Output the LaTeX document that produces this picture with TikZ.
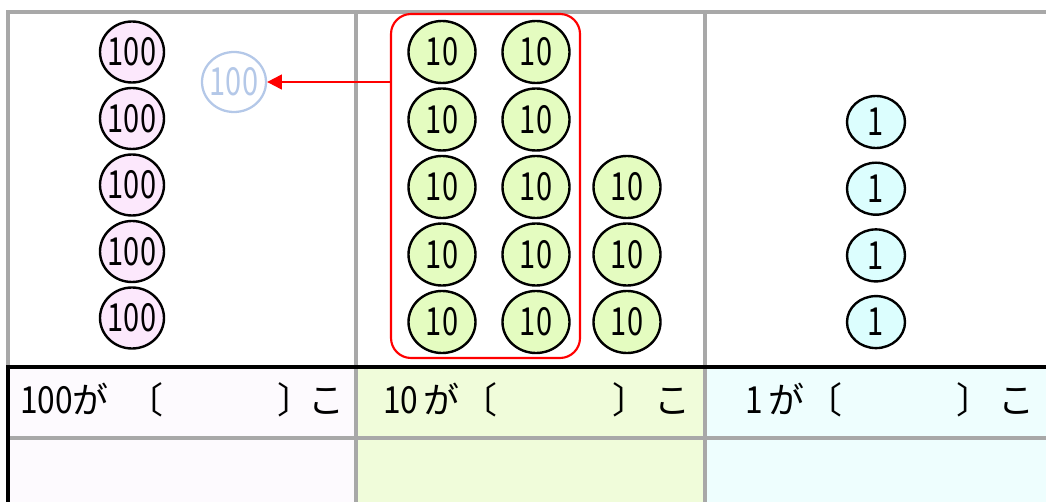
\documentclass[tikz,border=0pt]{standalone}
\usepackage{fontspec}
\setmainfont{Noto Sans CJK JP}
\newfontfamily\numfont[FakeStretch=0.75]{Noto Sans CJK JP}
\newfontfamily\cellnumfont[FakeStretch=0.85]{Noto Sans CJK JP}
\definecolor{FrameGray}{RGB}{168,168,168}
\definecolor{GhostBlue}{RGB}{180,200,232}
\definecolor{HundredFill}{RGB}{252,232,252}
\definecolor{TenFill}{RGB}{228,252,192}
\definecolor{OneFill}{RGB}{220,254,254}
\definecolor{HundredCell}{RGB}{253,250,254}
\definecolor{TenCell}{RGB}{240,252,218}
\definecolor{OneCell}{RGB}{238,254,254}
\usetikzlibrary{arrows.meta, shapes.geometric, positioning}

\begin{document}
\begin{tikzpicture}[x=0.75pt, y=-0.75pt,
    coin/.style={ellipse, draw=black, line width=1.8pt, inner sep=0pt,
      font=\numfont\fontsize{29}{32}\selectfont},
    hundred/.style={coin, fill=HundredFill, minimum width=48pt, minimum height=45.75pt},
    ten/.style={coin, fill=TenFill, minimum width=50.25pt, minimum height=46.5pt},
    one/.style={coin, fill=OneFill, minimum width=43.5pt, minimum height=39pt},
    celltext/.style={anchor=base west, inner sep=0pt, font=\fontsize{27}{30}\selectfont}]
  \useasboundingbox (0,0) rectangle (1046,502);
  % answer row backgrounds
  \foreach \xa/\xb/\c in {8/356/HundredCell, 356/705/TenCell, 705/1046/OneCell}
    \fill[\c] (\xa,367) rectangle (\xb,502);
  % grid
  \draw[FrameGray, line width=2.4pt] (8,367) -- (8,12) -- (1046,12);
  \draw[FrameGray, line width=2.4pt] (356,12) -- (356,502);
  \draw[FrameGray, line width=2.4pt] (705,12) -- (705,502);
  \draw[FrameGray, line width=2.4pt] (8,438) -- (1046,438);
  \draw[line width=2.4pt] (1046,367) -- (8,367) -- (8,502);
  % hundreds
  \foreach \i in {0,...,4}
    \node[hundred] (h\i) at (132,{52+66.5*\i}) {\makebox[0pt]{100}};
  \node[coin, draw=GhostBlue, text=GhostBlue, line width=1.7pt, minimum width=48pt,
    minimum height=45pt] (ghost) at (234,82) {\makebox[0pt]{100}};
  % tens
  \foreach \i in {0,...,4} {
    \node[ten] (ta\i) at (442,{52+67.5*\i}) {\makebox[0pt]{10}};
    \node[ten] (tb\i) at (536,{52+67.5*\i}) {\makebox[0pt]{10}};
  }
  \foreach \i in {2,3,4}
    \node[ten] (tc\i) at (627,{52+67.5*\i}) {\makebox[0pt]{10}};
  % ones
  \foreach \i in {0,...,3}
    \node[one] (o\i) at (876,{122+66.7*\i}) {\makebox[0pt]{1}};
  % bundle of ten tens
  \node[draw=red, line width=1.6pt, rounded corners=15pt, minimum width=141.75pt,
    minimum height=258pt] (bundle) at (485.5,186) {};
  \draw[red, line width=1.6pt, -{Triangle[length=11pt, width=11pt]}]
    (bundle.west |- ghost.east) -- (ghost.east);
  % answer row
  \foreach \n/\num/\xn/\xg/\xl/\xr/\xk in {h/100/20/72/127/277/308,
      t/10/383/423/461/612/654, o/1/745/768/806/956/998} {
    \node[celltext] (num-\n) at (\xn,413) {\cellnumfont\fontsize{28}{30}\selectfont\num};
    \node[celltext] (ga-\n) at (\xg,413) {が};
    \node[celltext] (lb-\n) at (\xl,413) {〔};
    \node[celltext] (rb-\n) at (\xr,413) {〕};
    \node[celltext] (ko-\n) at (\xk,413) {こ};
  }
\end{tikzpicture}
\end{document}
